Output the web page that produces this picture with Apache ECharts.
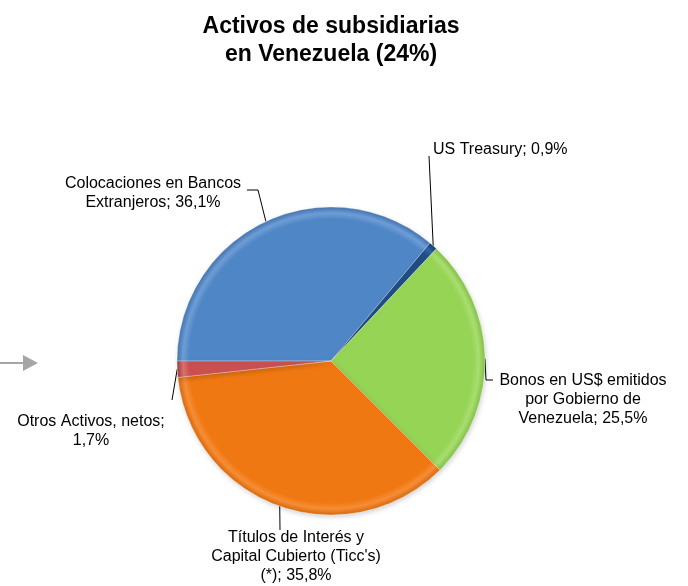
<!DOCTYPE html>
<html>
<head>
<meta charset="utf-8">
<script src="https://cdn.jsdelivr.net/npm/echarts@6/dist/echarts.min.js"></script>
<style>
  html, body { margin: 0; padding: 0; background: #fff; }
  #chart { width: 688px; height: 586px; }
</style>
</head>
<body>
<div id="chart"></div>
<script>
// datos
var categories = [
  'Colocaciones en Bancos\nExtranjeros',
  'US Treasury',
  'Bonos en US$ emitidos\npor Gobierno de\nVenezuela',
  'Títulos de Interés y\nCapital Cubierto (Ticc\'s)\n(*)',
  'Otros Activos, netos'
];
var values = [36.1, 0.9, 25.5, 35.8, 1.7];
// separador entre nombre y valor (Otros va en dos líneas)
var labelSeps = ['; ', '; ', '; ', '; ', ';\n'];

// estilo
var colors = [
  ['#4F86C6', '#6E9DD6', '#4474B0'],
  ['#1F4E86', '#2F64A4', '#173C68'],
  ['#95D455', '#A8DE70', '#84C046'],
  ['#F07812', '#F68D36', '#D8690C'],
  ['#C9504F', '#DA706E', '#9E3C3B']
];
var CX = 331, CY = 361, R = 154;

// posición de etiquetas + líneas guía
var spots = [
  { x: 153, y: 193, align: 'center', line: [[258, 190], [247, 190]] },
  { x: 433, y: 150, align: 'left',   line: [[429, 156]] },
  { x: 583, y: 400, align: 'center', line: [[486, 380], [493, 380]] },
  { x: 296, y: 557, align: 'center', line: [[280, 530]] },
  { x: 91,  y: 431, align: 'center', line: [[172, 400]] }
];

var chart = echarts.init(document.getElementById('chart'));

var data = categories.map(function (name, i) {
  var c = colors[i];
  return {
    name: name,
    value: values[i],
    itemStyle: {
      color: {
        type: 'radial', x: CX, y: CY, r: R, global: true,
        colorStops: [
          { offset: 0, color: c[0] },
          { offset: 0.92, color: c[0] },
          { offset: 0.96, color: c[1] },
          { offset: 1, color: c[2] }
        ]
      }
    }
  };
});

chart.setOption({
  animation: false,
  title: {
    text: 'Activos de subsidiarias\nen Venezuela (24%)',
    left: 326,
    top: 8,
    textAlign: 'center',
    textStyle: {
      fontFamily: 'Arial, "Liberation Sans"',
      fontSize: 23,
      fontWeight: 'bold',
      lineHeight: 28,
      color: '#000'
    }
  },
  graphic: [
    { type: 'line', shape: { x1: 0, y1: 363, x2: 26, y2: 363 }, style: { stroke: '#A6A6A6', lineWidth: 2 } },
    { type: 'polygon', shape: { points: [[23, 355], [38, 363], [23, 371]] }, style: { fill: '#A6A6A6' } }
  ],
  series: [{
    type: 'pie',
    center: [CX, CY],
    radius: R,
    startAngle: 180,
    clockwise: true,
    avoidLabelOverlap: false,
    emphasis: { disabled: true },
    itemStyle: {
      borderColor: 'rgba(255,255,255,0.3)',
      borderWidth: 1,
      shadowColor: 'rgba(0,0,0,0.18)',
      shadowBlur: 5,
      shadowOffsetX: 1,
      shadowOffsetY: 2
    },
    label: {
      show: true,
      position: 'outside',
      fontFamily: 'Arial, "Liberation Sans"',
      fontSize: 16,
      lineHeight: 19,
      color: '#000',
      formatter: function (p) {
        return p.name + labelSeps[p.dataIndex] + String(p.value.toFixed(1)).replace('.', ',') + '%';
      }
    },
    labelLine: {
      show: true,
      length: 10,
      length2: 10,
      lineStyle: { color: '#000', width: 1 }
    },
    labelLayout: function (p) {
      var s = spots[p.dataIndex];
      var start = p.labelLinePoints ? p.labelLinePoints[0] : null;
      var pts = start ? [start].concat(s.line) : undefined;
      return {
        x: s.x,
        y: s.y,
        align: s.align,
        verticalAlign: 'middle',
        labelLinePoints: pts
      };
    },
    data: data
  }]
});
</script>
</body>
</html>
